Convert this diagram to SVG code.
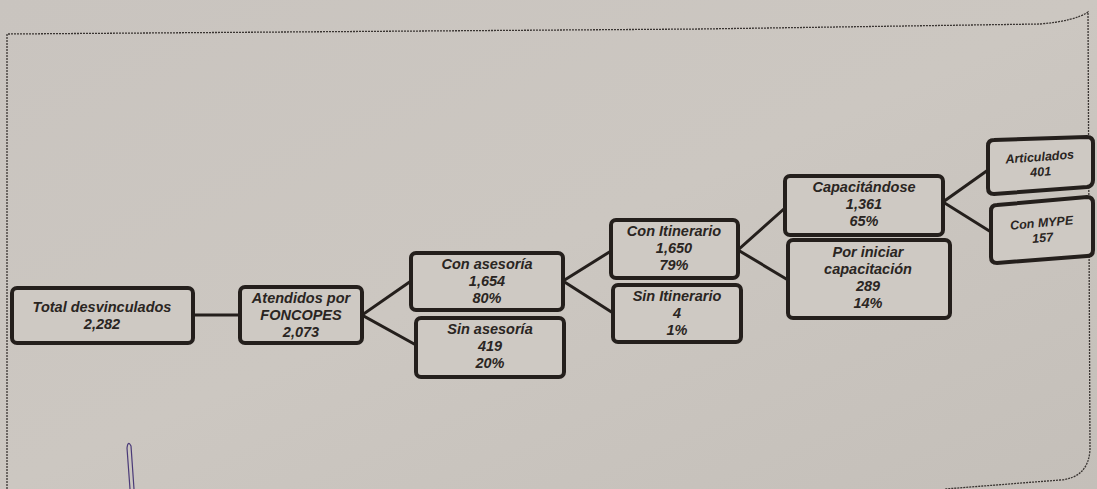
<svg xmlns="http://www.w3.org/2000/svg" width="1097" height="489" viewBox="0 0 1097 489">
<defs>
<linearGradient id="bg" x1="0" y1="0" x2="1" y2="1">
<stop offset="0" stop-color="#c9c4bf"/>
<stop offset="0.5" stop-color="#ccc7c1"/>
<stop offset="1" stop-color="#c4bfb9"/>
</linearGradient>
</defs>
<style>
.box{fill:#cec9c3;stroke:#241f1c;stroke-width:4;}
.lbl{font-family:"Liberation Sans",Arial,sans-serif;font-weight:bold;font-style:italic;font-size:14.5px;fill:#2a2522;text-anchor:middle;}
.sm{font-size:12.5px;}
.con{stroke:#241f1c;stroke-width:3;fill:none;}
.frame{stroke:#3a3532;stroke-width:1.3;fill:none;stroke-dasharray:2 1;}
</style>
<rect width="1097" height="489" fill="url(#bg)"/>
<path class="frame" d="M7,489 L7,34 L700,29 L1040,24 Q1075,21 1088,12 L1090,450 Q1088,478 1060,480 L945,489"/>
<path d="M130,489 L127,448 Q128,440 131,446 L134,489" stroke="#4a3a78" stroke-width="1.2" fill="none"/>
<g id="connectors">
<line class="con" x1="193" y1="315" x2="239" y2="315"/>
<polyline class="con" points="411,281 362,315 416,345"/>
<polyline class="con" points="611,251 563,281 613,313"/>
<polyline class="con" points="785,208 738,250 788,280"/>
<polyline class="con" points="988,170 943,202 991,232"/>
</g>
<g id="n-total">
<rect class="box" x="12" y="288" width="181" height="55" rx="5"/>
<text class="lbl" x="102" y="312">Total desvinculados</text>
<text class="lbl" x="102" y="329">2,282</text>
</g>
<g id="n-atendidos">
<rect class="box" x="240" y="287" width="122" height="56" rx="5"/>
<text class="lbl" x="301" y="303">Atendidos por</text>
<text class="lbl" x="301" y="320">FONCOPES</text>
<text class="lbl" x="301" y="337">2,073</text>
</g>
<g id="n-conases">
<rect class="box" x="411" y="253" width="152" height="57" rx="5"/>
<text class="lbl" x="487" y="269">Con asesoría</text>
<text class="lbl" x="487" y="286">1,654</text>
<text class="lbl" x="487" y="303">80%</text>
</g>
<g id="n-sinases">
<rect class="box" x="416" y="318" width="148" height="59" rx="5"/>
<text class="lbl" x="490" y="334">Sin asesoría</text>
<text class="lbl" x="490" y="351">419</text>
<text class="lbl" x="490" y="368">20%</text>
</g>
<g id="n-conitin">
<rect class="box" x="611" y="220" width="127" height="58" rx="5"/>
<text class="lbl" x="674" y="236">Con Itinerario</text>
<text class="lbl" x="674" y="253">1,650</text>
<text class="lbl" x="674" y="270">79%</text>
</g>
<g id="n-sinitin">
<rect class="box" x="613" y="285" width="128" height="57" rx="5"/>
<text class="lbl" x="677" y="301">Sin Itinerario</text>
<text class="lbl" x="677" y="318">4</text>
<text class="lbl" x="677" y="335">1%</text>
</g>
<g id="n-capac">
<rect class="box" x="785" y="176" width="158" height="59" rx="5"/>
<text class="lbl" x="864" y="192">Capacitándose</text>
<text class="lbl" x="864" y="209">1,361</text>
<text class="lbl" x="864" y="226">65%</text>
</g>
<g id="n-porini">
<rect class="box" x="788" y="240" width="162" height="78" rx="5"/>
<text class="lbl" x="868" y="257">Por iniciar</text>
<text class="lbl" x="868" y="274">capacitación</text>
<text class="lbl" x="868" y="291">289</text>
<text class="lbl" x="868" y="308">14%</text>
</g>
<g id="n-artic">
<path class="box" d="M994,140 L1087,137 Q1093,137 1093,143 L1093,180 Q1093,186 1087,187 L994,194 Q988,194 988,188 L988,146 Q988,140 994,140 Z"/>
<text class="lbl sm" x="1040" y="161" transform="rotate(-4 1040 161)">Articulados</text>
<text class="lbl sm" x="1041" y="176" transform="rotate(-4 1041 176)">401</text>
</g>
<g id="n-mype">
<path class="box" d="M997,205 L1087,197 Q1093,197 1093,203 L1093,250 Q1093,256 1087,256 L997,263 Q991,263 991,257 L991,211 Q991,205 997,205 Z"/>
<text class="lbl sm" x="1042" y="227" transform="rotate(-5 1042 227)">Con MYPE</text>
<text class="lbl sm" x="1043" y="242" transform="rotate(-5 1043 242)">157</text>
</g>
</svg>
